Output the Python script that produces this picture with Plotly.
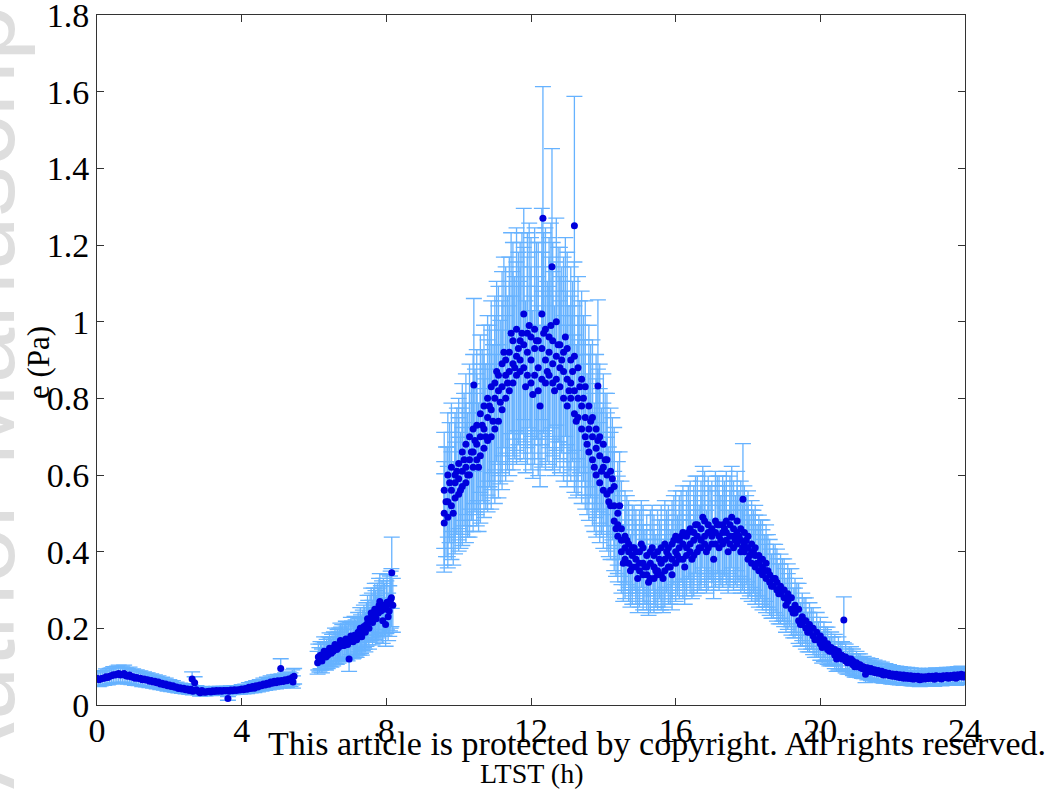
import plotly.graph_objects as go

# ---------------- data ----------------
# Night segment (0 - 5.5 h LTST), two interleaved sols
night_x = [0.0, 0.1, 0.2, 0.3, 0.4, 0.5, 0.6, 0.7, 0.8, 0.9, 1.0, 1.1, 1.2, 1.3, 1.4,
           1.5, 1.6, 1.7, 1.8, 1.9, 2.0, 2.1, 2.2, 2.3, 2.4, 2.5, 2.6, 2.63, 2.7, 2.75,
           2.8, 2.85, 2.9, 3.0, 3.1, 3.2, 3.3, 3.4, 3.5, 3.6, 3.62, 3.7, 3.8, 3.9, 4.0,
           4.1, 4.2, 4.3, 4.4, 4.5, 4.6, 4.7, 4.8, 4.9, 5.0, 5.08, 5.1, 5.2, 5.3, 5.4, 5.45]
night_y = [0.070, 0.068, 0.070, 0.072, 0.076, 0.078, 0.082, 0.080, 0.076, 0.078, 0.074,
           0.072, 0.070, 0.068, 0.066, 0.064, 0.062, 0.060, 0.057, 0.055, 0.052, 0.050,
           0.047, 0.045, 0.044, 0.042, 0.041, 0.068, 0.058, 0.040, 0.036, 0.032, 0.038,
           0.033, 0.036, 0.037, 0.038, 0.038, 0.038, 0.038, 0.017, 0.039, 0.040, 0.040,
           0.042, 0.043, 0.046, 0.048, 0.050, 0.052, 0.055, 0.057, 0.060, 0.062, 0.063,
           0.095, 0.064, 0.066, 0.068, 0.072, 0.075]
night2_x = [0.05, 0.15, 0.25, 0.35, 0.45, 0.55, 0.65, 0.75, 0.85, 0.95, 1.05, 1.15, 1.25,
            1.35, 1.45, 1.55, 1.65, 1.75, 1.85, 1.95, 2.05, 2.15, 2.25, 2.35, 2.45, 2.55,
            2.65, 2.95, 3.05, 3.15, 3.25, 3.35, 3.45, 3.55, 3.65, 3.75, 3.85, 3.95, 4.05,
            4.15, 4.25, 4.35, 4.45, 4.55, 4.65, 4.75, 4.85, 4.95, 5.05, 5.15, 5.25, 5.35,
            5.42]
night2_y = [0.066, 0.070, 0.074, 0.075, 0.079, 0.080, 0.078, 0.082, 0.075, 0.073, 0.070,
            0.069, 0.066, 0.065, 0.062, 0.060, 0.058, 0.055, 0.053, 0.050, 0.048, 0.046,
            0.043, 0.042, 0.040, 0.038, 0.036, 0.034, 0.035, 0.034, 0.035, 0.036, 0.036,
            0.037, 0.036, 0.037, 0.038, 0.039, 0.040, 0.041, 0.043, 0.044, 0.047, 0.050,
            0.052, 0.054, 0.057, 0.058, 0.060, 0.061, 0.063, 0.066, 0.060]

# Morning segment (6.1 - 8.2 h)
morn_x = [6.10, 6.15, 6.20, 6.25, 6.30, 6.35, 6.40, 6.45, 6.50, 6.55, 6.60, 6.65, 6.70,
          6.75, 6.80, 6.85, 6.90, 6.95, 6.97, 7.00, 7.05, 7.10, 7.15, 7.20, 7.25, 7.30,
          7.35, 7.40, 7.45, 7.50, 7.55, 7.60, 7.65, 7.70, 7.75, 7.80, 7.85, 7.90, 7.95,
          8.00, 8.05, 8.10, 8.12, 8.15, 8.18]
morn_y = [0.110, 0.118, 0.125, 0.130, 0.128, 0.135, 0.140, 0.138, 0.145, 0.150, 0.148,
          0.155, 0.158, 0.160, 0.155, 0.165, 0.162, 0.168, 0.120, 0.170, 0.172, 0.168,
          0.175, 0.180, 0.178, 0.185, 0.195, 0.200, 0.210, 0.215, 0.225, 0.230, 0.240,
          0.235, 0.250, 0.260, 0.245, 0.220, 0.250, 0.255, 0.230, 0.265, 0.275, 0.345,
          0.260]
morn2_x = [6.12, 6.18, 6.22, 6.28, 6.33, 6.38, 6.43, 6.48, 6.53, 6.58, 6.63, 6.68, 6.73,
           6.78, 6.83, 6.88, 6.93, 7.02, 7.08, 7.12, 7.18, 7.22, 7.28, 7.32, 7.38, 7.42,
           7.48, 7.52, 7.58, 7.62, 7.68, 7.72, 7.78, 7.82, 7.88, 7.92, 7.98, 8.02, 8.08,
           8.14]
morn2_y = [0.125, 0.130, 0.115, 0.140, 0.125, 0.130, 0.148, 0.135, 0.140, 0.158, 0.145,
           0.150, 0.168, 0.165, 0.155, 0.172, 0.158, 0.180, 0.165, 0.182, 0.170, 0.190,
           0.200, 0.178, 0.205, 0.190, 0.225, 0.200, 0.240, 0.215, 0.250, 0.225, 0.240,
           0.270, 0.255, 0.260, 0.210, 0.268, 0.245, 0.280]

# Daytime segment (9.6 - 18.5 h): overlapping sols
day_x = [9.6, 9.7, 9.8, 9.9, 10.0, 10.1, 10.2, 10.3, 10.4, 10.5, 10.6, 10.7, 10.8, 10.9,
         11.0, 11.1, 11.2, 11.3, 11.4, 11.5, 11.6, 11.7, 11.8, 11.9, 12.0, 12.1, 12.2,
         12.3, 12.4, 12.5, 12.6, 12.7, 12.8, 12.9, 13.0, 13.1, 13.2, 13.3, 13.4, 13.5,
         13.6, 13.7, 13.8, 13.9, 14.0, 14.1, 14.2, 14.3, 14.4, 14.5, 14.6, 14.7, 14.8,
         14.9, 15.0, 15.1, 15.2, 15.3, 15.4, 15.5, 15.6, 15.7, 15.8, 15.9, 16.0, 16.1,
         16.2, 16.3, 16.4, 16.5, 16.6, 16.7, 16.8, 16.9, 17.0, 17.1, 17.2, 17.3, 17.4,
         17.5, 17.6, 17.7, 17.8, 17.9, 18.0, 18.1, 18.2, 18.3, 18.4, 18.5]
day_a = [0.56, 0.60, 0.62, 0.60, 0.63, 0.66, 0.68, 0.70, 0.72, 0.73, 0.76, 0.78, 0.80,
         0.83, 0.84, 0.86, 0.89, 0.90, 0.92, 0.95, 0.98, 0.95, 1.02, 0.97, 0.96, 0.98,
         0.95, 1.02, 0.98, 0.96, 0.95, 1.00, 0.94, 0.92, 0.93, 0.90, 0.91, 0.88, 0.85,
         0.83, 0.78, 0.75, 0.72, 0.70, 0.68, 0.64, 0.61, 0.57, 0.50, 0.46, 0.44, 0.42,
         0.41, 0.40, 0.40, 0.41, 0.39, 0.40, 0.39, 0.40, 0.41, 0.42, 0.41, 0.42, 0.44,
         0.43, 0.45, 0.44, 0.46, 0.45, 0.47, 0.46, 0.48, 0.47, 0.46, 0.48, 0.47, 0.47,
         0.48, 0.47, 0.46, 0.48, 0.46, 0.45, 0.44, 0.42, 0.41, 0.39, 0.38, 0.37]
day_b = [0.50, 0.53, 0.56, 0.58, 0.59, 0.61, 0.62, 0.64, 0.66, 0.68, 0.70, 0.72, 0.75,
         0.77, 0.80, 0.82, 0.83, 0.86, 0.87, 0.89, 0.91, 0.90, 0.94, 0.92, 0.90, 0.93,
         0.88, 0.93, 0.90, 0.92, 0.89, 0.91, 0.88, 0.87, 0.85, 0.84, 0.82, 0.80, 0.78,
         0.75, 0.72, 0.70, 0.67, 0.65, 0.62, 0.60, 0.56, 0.52, 0.47, 0.43, 0.41, 0.40,
         0.39, 0.38, 0.37, 0.37, 0.36, 0.37, 0.36, 0.35, 0.37, 0.38, 0.39, 0.38, 0.40,
         0.41, 0.42, 0.41, 0.42, 0.43, 0.44, 0.43, 0.44, 0.45, 0.44, 0.45, 0.44, 0.45,
         0.45, 0.44, 0.44, 0.45, 0.43, 0.42, 0.41, 0.40, 0.39, 0.37, 0.36, 0.35]
day_c = [0.475, 0.49, 0.52, 0.54, 0.55, 0.57, 0.58, 0.60, 0.62, 0.64, 0.65, 0.67, 0.69,
         0.70, 0.72, 0.74, 0.77, 0.80, 0.82, 0.84, 0.86, 0.87, 0.88, 0.86, 0.84, 0.86,
         0.82, 0.85, 0.84, 0.86, 0.84, 0.85, 0.83, 0.80, 0.78, 0.80, 0.76, 0.75, 0.72,
         0.70, 0.66, 0.64, 0.60, 0.58, 0.56, 0.55, 0.52, 0.48, 0.44, 0.40, 0.38, 0.37,
         0.36, 0.36, 0.35, 0.34, 0.34, 0.33, 0.33, 0.34, 0.34, 0.35, 0.36, 0.34, 0.37,
         0.38, 0.38, 0.39, 0.40, 0.39, 0.40, 0.41, 0.42, 0.41, 0.42, 0.42, 0.41, 0.42,
         0.43, 0.42, 0.41, 0.42, 0.40, 0.40, 0.38, 0.37, 0.36, 0.35, 0.34, 0.33]
day2_x = [9.65, 9.75, 9.85, 9.95, 10.05, 10.15, 10.25, 10.35, 10.45, 10.55, 10.65, 10.75,
          10.85, 10.95, 11.05, 11.15, 11.25, 11.35, 11.45, 11.55, 11.65, 11.75, 11.85,
          11.95, 12.05, 12.15, 12.25, 12.35, 12.45, 12.55, 12.65, 12.75, 12.85, 12.95,
          13.05, 13.15, 13.25, 13.35, 13.45, 13.55, 13.65, 13.75, 13.85, 13.95, 14.05,
          14.15, 14.25, 14.35, 14.45, 14.55, 14.65, 14.75, 14.85, 14.95, 15.05, 15.15,
          15.25, 15.35, 15.45, 15.55, 15.65, 15.75, 15.85, 15.95, 16.05, 16.15, 16.25,
          16.35, 16.45, 16.55, 16.65, 16.75, 16.85, 16.95, 17.05, 17.15, 17.25, 17.35,
          17.45, 17.55, 17.65, 17.75, 17.85, 17.95, 18.05, 18.15, 18.25, 18.35, 18.45]
day2_y = [0.53, 0.58, 0.50, 0.61, 0.56, 0.64, 0.60, 0.66, 0.69, 0.62, 0.73, 0.70, 0.78,
          0.74, 0.87, 0.79, 0.92, 0.84, 0.97, 0.88, 0.93, 0.97, 0.83, 0.99, 0.81, 0.95,
          0.78, 0.97, 0.87, 0.99, 0.82, 0.94, 0.90, 0.96, 0.82, 0.87, 0.74, 0.83, 0.80,
          0.68, 0.74, 0.62, 0.69, 0.61, 0.64, 0.53, 0.59, 0.46, 0.52, 0.37, 0.43, 0.35,
          0.41, 0.33, 0.42, 0.36, 0.32, 0.41, 0.35, 0.38, 0.33, 0.40, 0.36, 0.43, 0.39,
          0.44, 0.36, 0.45, 0.38, 0.47, 0.41, 0.49, 0.40, 0.45, 0.38, 0.47, 0.43, 0.46,
          0.40, 0.49, 0.43, 0.44, 0.41, 0.43, 0.39, 0.40, 0.37, 0.38, 0.35]

# Isolated outliers
out_x = [10.42, 12.33, 12.58, 13.20, 13.85, 17.86, 20.65]
out_y = [0.835, 1.270, 1.143, 1.250, 0.832, 0.537, 0.222]

# Evening / night segment (18.5 - 24 h)
eve_x = [18.6, 18.7, 18.8, 18.9, 19.0, 19.1, 19.2, 19.3, 19.4, 19.5, 19.6, 19.7, 19.8,
         19.9, 20.0, 20.1, 20.2, 20.3, 20.4, 20.5, 20.6, 20.7, 20.8, 20.9, 21.0, 21.1,
         21.2, 21.3, 21.4, 21.5, 21.6, 21.7, 21.8, 21.9, 22.0, 22.1, 22.2, 22.3, 22.4,
         22.5, 22.6, 22.7, 22.8, 22.9, 23.0, 23.1, 23.2, 23.3, 23.4, 23.5, 23.6, 23.7,
         23.8, 23.9, 24.0]
eve_a = [0.34, 0.33, 0.32, 0.31, 0.30, 0.29, 0.28, 0.26, 0.25, 0.23, 0.22, 0.21, 0.20,
         0.19, 0.18, 0.17, 0.16, 0.15, 0.145, 0.14, 0.13, 0.125, 0.12, 0.115, 0.11,
         0.105, 0.100, 0.097, 0.095, 0.092, 0.090, 0.088, 0.085, 0.083, 0.081, 0.080,
         0.079, 0.078, 0.077, 0.076, 0.075, 0.075, 0.074, 0.074, 0.075, 0.075, 0.076,
         0.075, 0.076, 0.077, 0.077, 0.078, 0.079, 0.080, 0.078]
eve_b = [0.32, 0.31, 0.30, 0.29, 0.28, 0.27, 0.25, 0.24, 0.22, 0.21, 0.20, 0.19, 0.18,
         0.17, 0.16, 0.155, 0.145, 0.14, 0.13, 0.125, 0.12, 0.115, 0.11, 0.105, 0.100,
         0.098, 0.094, 0.090, 0.087, 0.085, 0.083, 0.080, 0.079, 0.077, 0.075, 0.074,
         0.072, 0.070, 0.070, 0.069, 0.068, 0.068, 0.067, 0.068, 0.069, 0.070, 0.070,
         0.070, 0.071, 0.071, 0.072, 0.072, 0.073, 0.074, 0.075]
eve2_x = [18.55, 18.65, 18.75, 18.85, 18.95, 19.05, 19.15, 19.25, 19.35, 19.45, 19.55,
          19.65, 19.75, 19.85, 19.95, 20.05, 20.15, 20.25, 20.35, 20.45, 20.55, 20.75,
          20.85, 20.95, 21.05, 21.15, 21.25, 21.35, 21.45, 21.55, 21.65, 21.75, 21.85,
          21.95, 22.05, 22.15, 22.25, 22.35, 22.45, 22.55, 22.65, 22.75, 22.85, 22.95,
          23.05, 23.15, 23.25, 23.35, 23.45, 23.55, 23.65, 23.75, 23.85, 23.95]
eve2_y = [0.35, 0.31, 0.33, 0.29, 0.30, 0.26, 0.28, 0.24, 0.25, 0.21, 0.22, 0.19, 0.20,
          0.17, 0.17, 0.15, 0.16, 0.14, 0.14, 0.12, 0.13, 0.11, 0.12, 0.10, 0.105, 0.095,
          0.080, 0.092, 0.088, 0.084, 0.086, 0.078, 0.080, 0.076, 0.078, 0.073, 0.074,
          0.071, 0.070, 0.068, 0.071, 0.066, 0.070, 0.069, 0.072, 0.067, 0.073, 0.068,
          0.074, 0.070, 0.075, 0.070, 0.076, 0.073]

x_tickvals = [0, 4, 8, 12, 16, 20, 24]
x_ticktext = ["0", "4", "8", "12", "16", "20", "24"]
y_tickvals = [0, 0.2, 0.4, 0.6, 0.8, 1.0, 1.2, 1.4, 1.6, 1.8]
y_ticktext = ["0", "0.2", "0.4", "0.6", "0.8", "1", "1.2", "1.4", "1.6", "1.8"]

# ---------------- figure ----------------
all_x = (night_x + night2_x + morn_x + morn2_x + day_x + day_x + day_x + day2_x
         + out_x + eve_x + eve_x + eve2_x)
all_y = (night_y + night2_y + morn_y + morn2_y + day_a + day_b + day_c + day2_y
         + out_y + eve_a + eve_b + eve2_y)

W, H = 1047, 791
L, R, T, B = 97, 965, 15, 705

fig = go.Figure()
fig.add_trace(go.Scatter(
    x=all_x, y=all_y, mode="markers",
    marker=dict(color="#0000DC", size=7, line=dict(width=0)),
    error_y=dict(type="percent", value=27, symmetric=True,
                 color="#66B2FF", thickness=1.3, width=8),
    showlegend=False, hoverinfo="x+y"))

serif = "Liberation Serif, Times New Roman, serif"
axis_common = dict(showgrid=False, zeroline=False, showline=True, linecolor="#333333",
                   linewidth=1, mirror="allticks", ticks="inside", ticklen=7,
                   tickwidth=1, tickcolor="#333333", ticklabeloverflow="allow",
                   automargin=False,
                   tickfont=dict(family=serif, size=34, color="black"))

fig.update_xaxes(range=[0, 24], tickvals=x_tickvals, ticktext=x_ticktext,
                 ticklabelstandoff=-5, **axis_common)
fig.update_yaxes(range=[0, 1.8], tickvals=y_tickvals, ticktext=y_ticktext,
                 ticklabelstandoff=0, **axis_common)

def px_to_paper(px, py):
    return (px - L) / (R - L), (B - py) / (B - T)

ann = []
wx, wy = px_to_paper(-21, 383)
ann.append(dict(text="Author Manuscript", x=wx, y=wy, xref="paper", yref="paper",
                textangle=-90, showarrow=False, xanchor="center", yanchor="middle",
                font=dict(family="Liberation Sans, Arial, sans-serif", size=100,
                          color="#dedede")))
yx, yy = px_to_paper(38, 363)
ann.append(dict(text="e (Pa)", x=yx, y=yy, xref="paper", yref="paper", textangle=-90,
                showarrow=False, xanchor="center", yanchor="middle",
                font=dict(family=serif, size=31, color="black")))
xx, xy = px_to_paper(531, 773)
ann.append(dict(text="LTST (h)", x=xx, y=xy, xref="paper", yref="paper",
                showarrow=False, xanchor="center", yanchor="middle",
                font=dict(family=serif, size=28, color="black")))
cx, cy = px_to_paper(657, 744)
ann.append(dict(text="This article is protected by copyright. All rights reserved.",
                x=cx, y=cy, xref="paper", yref="paper", showarrow=False,
                xanchor="center", yanchor="middle",
                font=dict(family=serif, size=34, color="black")))

fig.update_layout(width=W, height=H, margin=dict(l=L, r=W - R, t=T, b=H - B),
                  plot_bgcolor="white", paper_bgcolor="white", annotations=ann)

fig.write_html("out.html")
